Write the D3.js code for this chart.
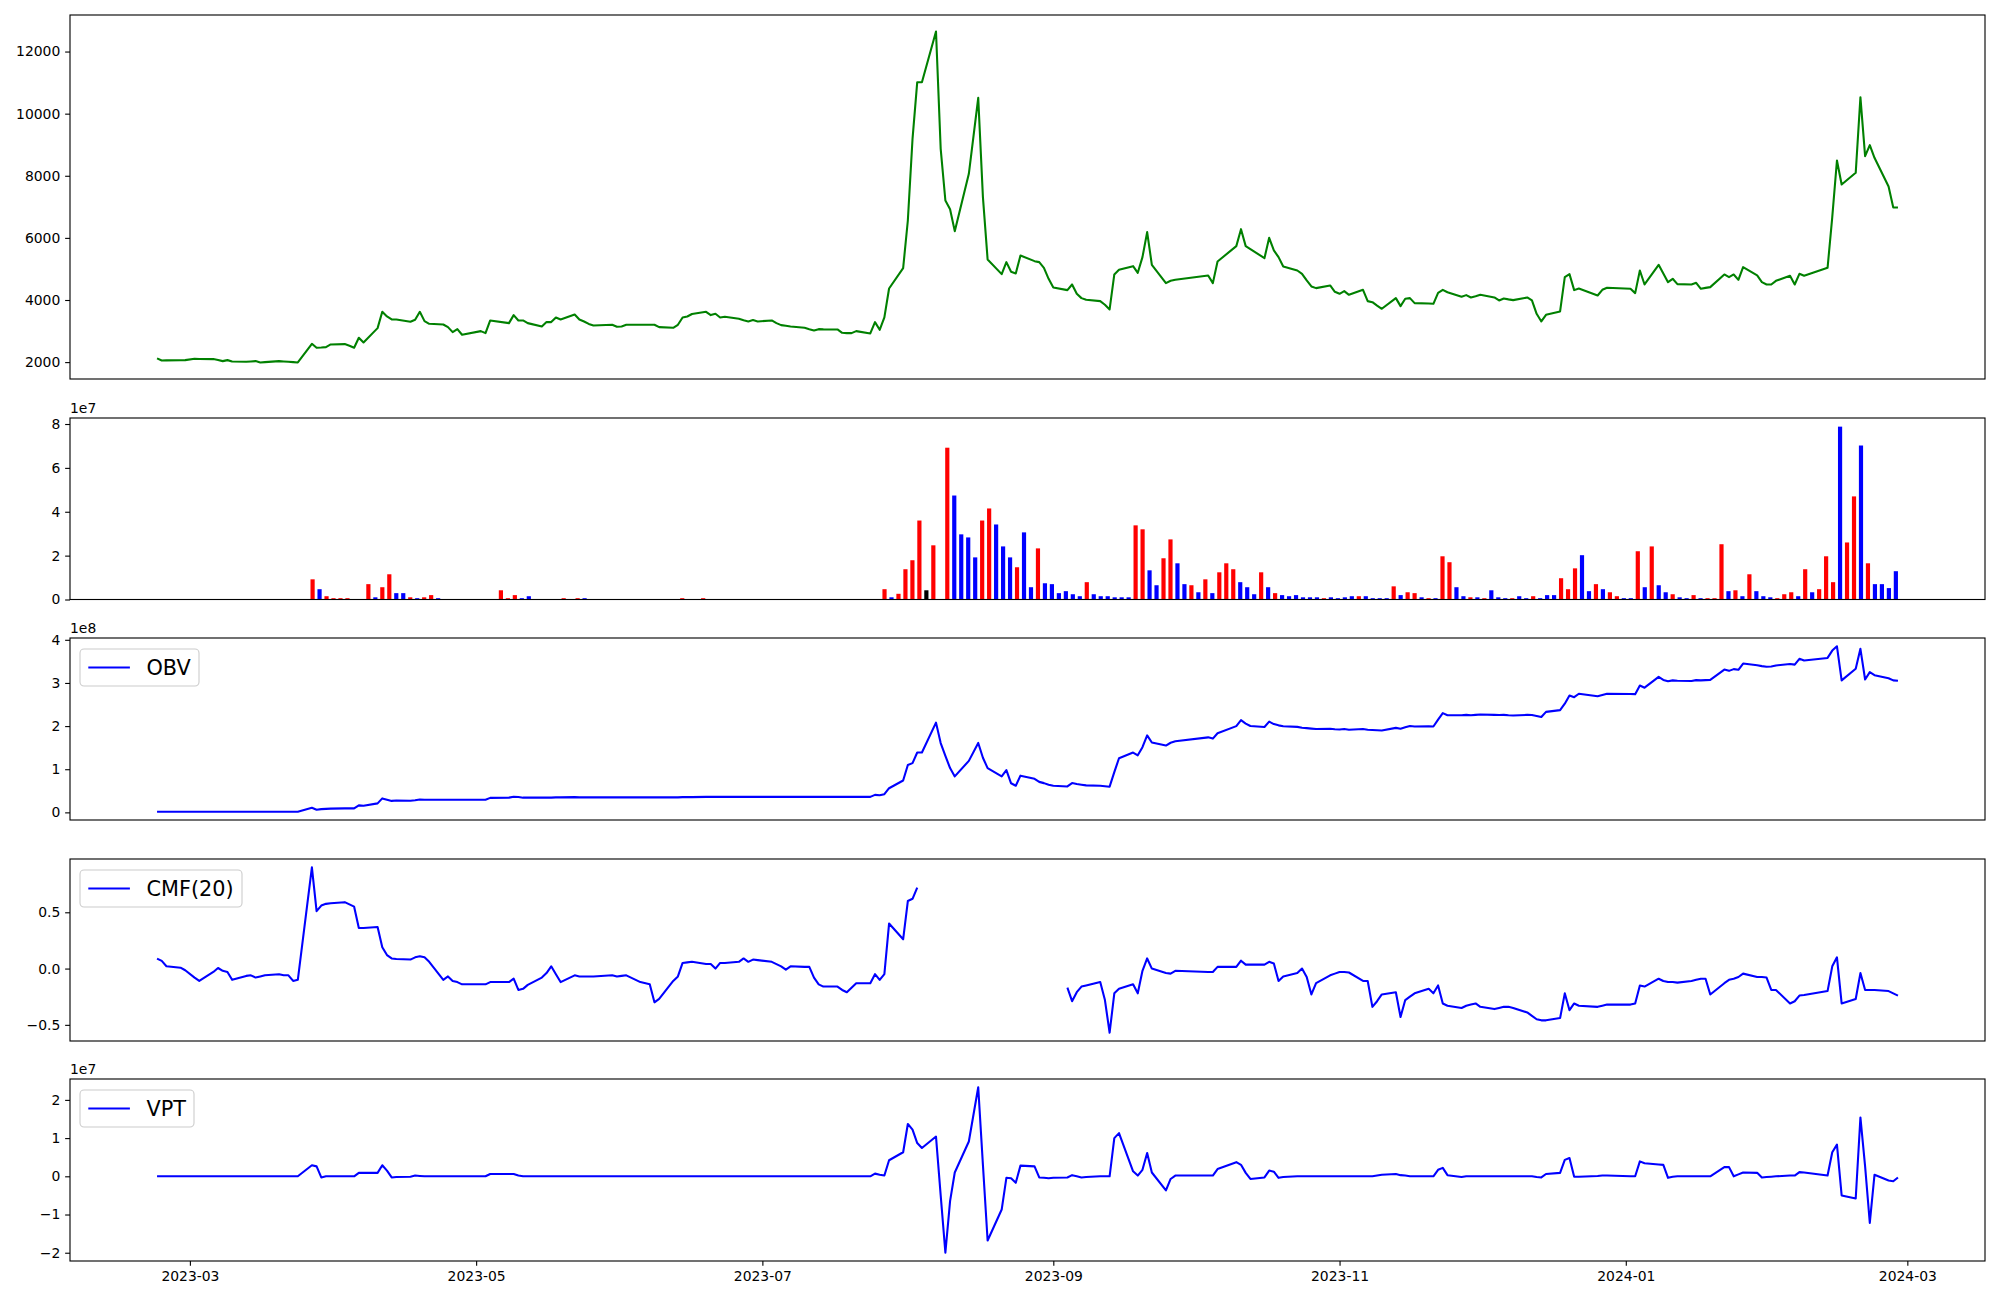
<!DOCTYPE html>
<html><head><meta charset="utf-8">
<script src="https://cdn.jsdelivr.net/npm/d3@7/dist/d3.min.js"></script>
<style>body{margin:0;background:#fff}svg{display:block}text{font-family:"DejaVu Sans",sans-serif}</style>
</head><body><svg id="chart" width="2000" height="1300"></svg>
<script>
// ---------------- DATA ----------------
const tradingDays = [
 ["2023-02",[22,23,24,27,28]],
 ["2023-03",[2,3,6,7,8,9,10,13,14,15,16,17,20,21,22,23,24,27,28,29,30,31]],
 ["2023-04",[3,4,5,6,7,10,11,12,13,14,17,18,19,20,21,24,25,26,27,28]],
 ["2023-05",[2,3,4,8,9,10,11,12,15,16,17,18,19,22,23,24,25,26,30,31]],
 ["2023-06",[1,2,5,7,8,9,12,13,14,15,16,19,20,21,22,23,26,27,28,29,30]],
 ["2023-07",[3,4,5,6,7,10,11,12,13,14,17,18,19,20,21,24,25,26,27,28,31]],
 ["2023-08",[1,2,3,4,7,8,9,10,11,14,16,17,18,21,22,23,24,25,28,29,30,31]],
 ["2023-09",[1,4,5,6,7,8,11,12,13,14,15,18,19,20,21,22,25,26,27]],
 ["2023-10",[4,5,6,10,11,12,13,16,17,18,19,20,23,24,25,26,27,30,31]],
 ["2023-11",[1,2,3,6,7,8,9,10,13,14,15,16,17,20,21,22,23,24,27,28,29,30]],
 ["2023-12",[1,4,5,6,7,8,11,12,13,14,15,18,19,20,21,22,26,27,28]],
 ["2024-01",[2,3,4,5,8,9,10,11,12,15,16,17,18,19,22,23,24,25,26,29,30,31]],
 ["2024-02",[1,2,5,6,7,8,13,14,15,16,19,20,21,22,23,26,27,28]]
];

const closePrice = [
 2120,2054,2055,2060,2064,2107,2100,2097,2070,2032,
 2064,2021,2011,2020,2032,1989,2000,2032,2020,2011,
 2000,1989,2590,2461,2470,2483,2569,2580,2526,2461,
 2783,2633,3094,3620,3470,3373,3373,3298,3363,3620,
 3320,3234,3212,3127,2966,3062,2880,2998,2934,3341,
 3255,3513,3341,3341,3255,3148,3288,3288,3438,3373,
 3534,3373,3309,3230,3180,3202,3137,3148,3202,3202,
 3202,3202,3127,3105,3202,3438,3470,3550,3620,3513,
 3556,3438,3459,3395,3350,3309,3352,3309,3341,3255,
 3191,3170,3148,3105,3060,3019,3062,3055,3051,2944,
 2934,2934,2998,2923,3288,3041,3438,4371,5026,6560,
 9190,11013,11013,12644,8867,7204,6925,6217,8062,10509,
 7311,5305,4833,5219,4908,4854,5434,5251,5219,5037,
 4683,4404,4318,4500,4200,4060,4007,3964,3846,3695,
 4822,4972,5090,4876,5380,6185,5133,4543,4618,4650,
 4790,4543,5240,5734,6281,5734,5637,5348,6002,5595,
 5380,5080,4950,4843,4629,4436,4382,4468,4264,4200,
 4285,4167,4328,3964,3931,3820,3717,4060,3803,4039,
 4060,3899,3890,3878,4232,4328,4250,4103,4157,4082,
 4120,4167,4082,3985,4049,4020,3996,4082,3985,3556,
 3309,3524,3631,4736,4833,4318,4371,4146,4328,4393,
 4361,4221,4951,4500,5133,4850,4575,4683,4511,4500,
 4554,4361,4390,4414,4822,4736,4822,4650,5058,4790,
 4575,4500,4500,4618,4779,4500,4843,4779,5037,6668,
 8492,7719,8095,10530,8631,8985,8578,7655,6979,6979
];

const volume = [
 0,0,0,0,0,0,0,0,0,0,
 0,0,0,0,0,0,0,0,0,0,
 0,0,9.2e6,4.7e6,1.5e6,0.6e6,0.6e6,0.6e6,0,0,
 7.0e6,1.0e6,5.6e6,11.5e6,2.9e6,2.9e6,1.0e6,0.6e6,1.0e6,2.0e6,
 0.6e6,0,0,0,0,0,0,0,0,4.2e6,
 0.6e6,2.0e6,0.6e6,1.5e6,0,0,0,0,0.6e6,0,
 0.6e6,0.6e6,0,0,0,0,0,0,0,0,
 0,0,0,0,0,0.6e6,0,0,0.6e6,0,
 0,0,0,0,0,0,0,0,0,0,
 0,0,0,0,0,0,0,0,0,0,
 0,0,0,0,4.7e6,1.0e6,2.6e6,13.8e6,17.9e6,36.0e6,
 4.2e6,24.7e6,0,69.2e6,47.4e6,29.7e6,28.3e6,19.2e6,36.0e6,41.5e6,
 34.2e6,24.2e6,19.2e6,14.7e6,30.6e6,5.6e6,23.3e6,7.4e6,7.0e6,2.9e6,
 3.8e6,2.4e6,1.5e6,7.9e6,2.4e6,1.5e6,1.5e6,1.0e6,1.0e6,1.0e6,
 33.8e6,32.0e6,13.3e6,6.5e6,18.8e6,27.4e6,16.5e6,7.0e6,6.5e6,3.3e6,
 9.2e6,2.9e6,12.4e6,16.5e6,13.8e6,7.9e6,5.6e6,2.4e6,12.4e6,5.6e6,
 2.9e6,2.0e6,1.5e6,2.0e6,1.0e6,1.0e6,1.0e6,0.6e6,1.0e6,0.6e6,
 1.0e6,1.5e6,1.5e6,1.5e6,0.6e6,0.6e6,0.6e6,6.0e6,2.0e6,3.3e6,
 2.9e6,1.0e6,0.6e6,0.6e6,19.7e6,17.0e6,5.6e6,1.5e6,1.0e6,1.0e6,
 0.6e6,4.2e6,1.0e6,0.6e6,0.6e6,1.5e6,0.6e6,1.5e6,0.6e6,2.0e6,
 2.0e6,9.7e6,4.7e6,14.2e6,20.2e6,3.8e6,7.0e6,4.7e6,3.3e6,1.5e6,
 0.6e6,0.6e6,22.0e6,5.6e6,24.2e6,6.5e6,3.3e6,2.4e6,1.0e6,0.6e6,
 2.0e6,0.6e6,0.6e6,0.6e6,25.2e6,3.8e6,4.2e6,1.5e6,11.5e6,3.8e6,
 1.5e6,1.0e6,0.6e6,2.4e6,3.3e6,1.5e6,13.8e6,3.3e6,4.7e6,19.7e6,
 7.9e6,78.8e6,26.0e6,47.0e6,70.2e6,16.5e6,7.0e6,7.0e6,5.2e6,12.9e6
];

// bar colour per day: r = red, b = blue, k = black, n = no bar
const volumeColorCodes = (
 "nnnnnnnnnn" + "nnnnnnnnnn" + "nnrbrrrrnn" + "rbrrbbrbrr" + "bnnnnnnnnr" +
 "rrbbnnnnrn" + "rbnnnnnnnn" + "nnnnnrnnrn" + "nnnnnnnnnn" + "nnnnnnnnnn" +
 "nnnnrbrrrr" + "krnrbbbbrr" + "bbbrbbrbbb" + "bbbrbbbbbb" + "rrbbrrbbrb" +
 "rbrrrbbbrb" + "rbbbbbbrbb" + "bbrbbbbrbr" + "rbrbrrbbrb" + "rbbbrbbrbb" +
 "brrrbbrbrr" + "bbrbrbbrbb" + "rbrrrbrbrb" + "bbrrrbrbrr" + "rbrrbrbbbb").split("");

const obv = [
 1.5e6,1.5e6,1.5e6,1.5e6,1.5e6,1.5e6,1.5e6,1.5e6,1.5e6,1.5e6,
 1.5e6,1.5e6,1.5e6,1.5e6,1.5e6,1.5e6,1.5e6,1.5e6,1.5e6,1.5e6,
 1.5e6,1.5e6,10.7e6,6.0e6,7.5e6,8.1e6,8.7e6,9.3e6,9.3e6,9.3e6,
 16.3e6,15.3e6,20.9e6,32.4e6,29.5e6,26.6e6,27.6e6,27.0e6,28.0e6,30.0e6,
 29.4e6,29.4e6,29.4e6,29.4e6,29.4e6,29.4e6,29.4e6,29.4e6,29.4e6,33.6e6,
 34.2e6,36.2e6,35.6e6,34.1e6,34.1e6,34.1e6,34.1e6,34.1e6,34.7e6,34.7e6,
 35.3e6,34.7e6,34.7e6,34.7e6,34.7e6,34.7e6,34.7e6,34.7e6,34.7e6,34.7e6,
 34.7e6,34.7e6,34.7e6,34.7e6,34.7e6,35.3e6,35.3e6,35.3e6,35.9e6,35.9e6,
 35.9e6,35.9e6,35.9e6,35.9e6,35.9e6,35.9e6,35.9e6,35.9e6,35.9e6,35.9e6,
 35.9e6,35.9e6,35.9e6,35.9e6,35.9e6,35.9e6,35.9e6,35.9e6,35.9e6,35.9e6,
 35.9e6,35.9e6,35.9e6,35.9e6,40.6e6,39.6e6,42.2e6,56.0e6,73.9e6,109.9e6,
 114.1e6,138.8e6,138.8e6,208.0e6,160.6e6,130.9e6,102.6e6,83.4e6,119.4e6,160.9e6,
 126.7e6,102.5e6,83.3e6,98.0e6,67.4e6,61.8e6,85.1e6,77.7e6,70.7e6,67.8e6,
 64.0e6,61.6e6,60.1e6,68.0e6,65.6e6,64.1e6,62.6e6,61.6e6,60.6e6,59.6e6,
 93.4e6,125.4e6,138.7e6,132.2e6,151.0e6,178.4e6,161.9e6,154.9e6,161.4e6,164.7e6,
 173.9e6,171.0e6,183.4e6,199.9e6,213.7e6,205.8e6,200.2e6,197.8e6,210.2e6,204.6e6,
 201.7e6,199.7e6,198.2e6,196.2e6,195.2e6,194.2e6,193.2e6,193.8e6,192.8e6,192.2e6,
 193.2e6,191.7e6,193.2e6,191.7e6,191.1e6,190.5e6,189.9e6,195.9e6,193.9e6,197.2e6,
 200.1e6,199.1e6,199.7e6,199.1e6,215.0e6,230.0e6,225.0e6,225.0e6,226.0e6,225.0e6,
 226.0e6,227.0e6,226.0e6,225.5e6,226.0e6,225.0e6,224.5e6,226.0e6,225.5e6,223.5e6,
 221.0e6,233.0e6,237.0e6,252.0e6,271.0e6,267.0e6,275.0e6,269.0e6,272.0e6,275.0e6,
 274.5e6,274.0e6,294.0e6,289.0e6,314.0e6,307.0e6,304.0e6,306.0e6,305.0e6,304.5e6,
 306.5e6,306.0e6,306.5e6,307.0e6,331.0e6,328.0e6,332.0e6,330.5e6,345.0e6,341.0e6,
 339.0e6,337.5e6,338.0e6,340.5e6,344.0e6,342.5e6,356.0e6,352.0e6,358.0e6,375.0e6,
 385.0e6,306.0e6,333.0e6,379.0e6,308.0e6,325.0e6,318.0e6,311.0e6,306.0e6,305.0e6
];

const cmf20 = [
 0.089,0.068,0.021,0.008,-0.015,-0.08,-0.11,-0.03,0.005,-0.02,
 -0.03,-0.10,-0.065,-0.06,-0.08,-0.07,-0.06,-0.05,-0.06,-0.06,
 -0.11,-0.10,0.90,0.51,0.56,0.575,0.58,0.59,0.57,0.55,
 0.36,0.36,0.37,0.19,0.12,0.09,0.085,0.08,0.10,0.11,
 0.10,0.06,-0.10,-0.07,-0.11,-0.12,-0.14,-0.14,-0.14,-0.12,
 -0.12,-0.09,-0.19,-0.18,-0.145,-0.08,-0.04,0.02,-0.05,-0.12,
 -0.06,-0.07,-0.07,-0.07,-0.07,-0.06,-0.07,-0.065,-0.06,-0.12,
 -0.14,-0.30,-0.27,-0.11,-0.07,0.05,0.055,0.06,0.04,0.04,
 0.0,0.05,0.05,0.06,0.09,0.06,0.08,0.075,0.06,0.04,
 0.02,-0.01,0.02,0.015,0.015,-0.08,-0.14,-0.16,-0.16,-0.19,
 -0.21,-0.17,-0.13,-0.13,-0.05,-0.10,-0.05,0.40,0.26,0.60,
 0.62,0.72,null,null,null,null,null,null,null,null,
 null,null,null,null,null,null,null,null,null,null,
 null,null,-0.17,-0.29,-0.21,-0.16,-0.15,-0.12,-0.28,-0.57,
 -0.22,-0.18,-0.14,-0.22,-0.02,0.09,0.0,-0.04,-0.045,-0.02,
 -0.03,-0.03,0.015,0.015,0.07,0.035,0.035,0.035,0.06,0.045,
 -0.11,-0.07,-0.04,0.0,-0.075,-0.23,-0.13,-0.06,-0.045,-0.03,
 -0.03,-0.035,-0.11,-0.11,-0.34,-0.29,-0.23,-0.21,-0.43,-0.28,
 -0.25,-0.22,-0.18,-0.22,-0.15,-0.31,-0.33,-0.35,-0.33,-0.32,
 -0.31,-0.34,-0.36,-0.35,-0.34,-0.34,-0.35,-0.39,-0.42,-0.45,
 -0.46,-0.46,-0.44,-0.22,-0.37,-0.31,-0.33,-0.34,-0.33,-0.32,
 -0.32,-0.31,-0.15,-0.16,-0.09,-0.11,-0.12,-0.12,-0.125,-0.11,
 -0.10,-0.09,-0.09,-0.23,-0.13,-0.10,-0.09,-0.075,-0.045,-0.075,
 -0.075,-0.08,-0.19,-0.19,-0.31,-0.29,-0.24,-0.235,-0.20,0.02,
 0.10,-0.31,-0.27,-0.04,-0.19,-0.19,-0.19,-0.20,-0.22,-0.24
];

const vpt = [
 0,0,0,0,0,0,0,0,0,0,
 0,0,0,0,0,0,0,0,0,0,
 0,0,2.9e6,2.6e6,-0.3e6,0,0,0,0,0,
 0.9e6,0.9e6,0.9e6,2.9e6,1.5e6,-0.3e6,-0.2e6,-0.1e6,0.2e6,0.1e6,
 0,0,0,0,0,0,0,0,0,0.6e6,
 0.6e6,0.6e6,0.2e6,0,0,0,0,0,0,0,
 0,0,0,0,0,0,0,0,0,0,
 0,0,0,0,0,0,0,0,0,0,
 0,0,0,0,0,0,0,0,0,0,
 0,0,0,0,0,0,0,0,0,0,
 0,0,0,0,0.7e6,0.4e6,0.2e6,4.2e6,6.3e6,13.7e6,
 12.2e6,8.7e6,7.4e6,10.4e6,-5.0e6,-20.0e6,-6.5e6,1.0e6,9.1e6,23.3e6,
 3.0e6,-16.8e6,-8.7e6,-0.4e6,-0.5e6,-1.7e6,2.8e6,2.6e6,-0.3e6,-0.4e6,
 -0.5e6,-0.4e6,-0.3e6,0.3e6,0,-0.3e6,-0.2e6,0,0,0,
 10.0e6,11.3e6,1.3e6,0.2e6,1.7e6,6.1e6,1.0e6,-3.7e6,-0.7e6,0.2e6,
 0.2e6,0.2e6,1.9e6,3.7e6,3.0e6,0.9e6,-0.7e6,-0.3e6,1.5e6,1.2e6,
 -0.4e6,-0.2e6,0,0,0,0,0,0,0,0,
 0,0,0,0,0,0.2e6,0.4e6,0.6e6,0.3e6,0.2e6,
 0,0,0,0,1.7e6,2.2e6,0.3e6,-0.2e6,0,0,
 0,0,0,0,0,0,0,0,0,-0.2e6,
 -0.3e6,0.6e6,0.9e6,4.3e6,4.8e6,-0.1e6,-0.1e6,0.1e6,0.2e6,0.2e6,
 0,0,3.9e6,3.4e6,3.1e6,3.0e6,-0.4e6,-0.1e6,0,0,
 0,0,0,0,2.4e6,2.4e6,0,0.5e6,1.0e6,0.9e6,
 -0.3e6,-0.2e6,-0.1e6,0,0.2e6,0.2e6,1.1e6,1.0e6,0.2e6,6.3e6,
 8.3e6,-5.0e6,-5.8e6,15.4e6,2.6e6,-12.2e6,0.4e6,-1.1e6,-1.3e6,-0.3e6
];

const priceTicks = [2000,4000,6000,8000,10000,12000];
const priceTickLabels = ["2000","4000","6000","8000","10000","12000"];
const volumeTicks = [0,2e7,4e7,6e7,8e7];
const volumeTickLabels = ["0","2","4","6","8"];
const obvTicks = [0,1e8,2e8,3e8,4e8];
const obvTickLabels = ["0","1","2","3","4"];
const cmfTicks = [-0.5,0,0.5];
const cmfTickLabels = ["\u22120.5","0.0","0.5"];
const vptTicks = [-2e7,-1e7,0,1e7,2e7];
const vptTickLabels = ["\u22122","\u22121","0","1","2"];
const xTickDates = ["2023-03-01","2023-05-01","2023-07-01","2023-09-01","2023-11-01","2024-01-01","2024-03-01"];
const xTickLabels = ["2023-03","2023-05","2023-07","2023-09","2023-11","2024-01","2024-03"];

// ---------------- LAYOUT ----------------
const W = 2000, H = 1300, L = 70, R = 1985;
const FS = 13.9, TICK = 4.86, LW = 2.08, SPINE = 1.11;
const P = {
  price: {top: 15, bottom: 379},
  vol:   {top: 418, bottom: 599.5},
  obv:   {top: 638, bottom: 820},
  cmf:   {top: 859, bottom: 1041},
  vpt:   {top: 1079, bottom: 1261}
};

const svg = d3.select("#chart");
svg.append("rect").attr("width", W).attr("height", H).attr("fill", "#fff");
const defs = svg.append("defs");

const parse = d3.timeParse("%Y-%m-%d");
const dates = tradingDays.flatMap(([ym, ds]) => ds.map(d => parse(ym + "-" + String(d).padStart(2, "0"))));
const N = dates.length;
const span = dates[N - 1] - dates[0];
const x = d3.scaleTime()
  .domain([new Date(+dates[0] - span * 0.05), new Date(+dates[N - 1] + span * 0.05)])
  .range([L, R]);

const barFrac = 0.6;
const iLo = -barFrac / 2, iHi = N - 1 + barFrac / 2, iPad = (iHi - iLo) * 0.05;
const xi = d3.scaleLinear().domain([iLo - iPad, iHi + iPad]).range([L, R]);

function padded(vals) {
  const [a, b] = d3.extent(vals);
  const p = (b - a) * 0.05;
  return [a - p, b + p];
}

function panel(key, domain, ticks, labels, offsetLabel) {
  const p = P[key];
  const y = d3.scaleLinear().domain(domain).range([p.bottom, p.top]);
  const g = svg.append("g");
  defs.append("clipPath").attr("id", "clip-" + key)
    .append("rect").attr("x", L).attr("y", p.top).attr("width", R - L).attr("height", p.bottom - p.top);
  const plot = g.append("g").attr("clip-path", "url(#clip-" + key + ")");
  const ax = g.append("g").attr("transform", "translate(" + L + ",0)")
    .call(d3.axisLeft(y).tickValues(ticks).tickFormat((d, i) => labels[i]).tickSize(TICK).tickPadding(TICK));
  ax.select(".domain").remove();
  ax.selectAll(".tick line").attr("stroke", "#000").attr("stroke-width", SPINE);
  ax.selectAll(".tick text").attr("fill", "#000").style("font-size", FS + "px").style("font-family", "DejaVu Sans");
  if (offsetLabel) {
    g.append("text").attr("x", L).attr("y", p.top - 5).attr("fill", "#000")
      .style("font-size", FS + "px").text(offsetLabel);
  }
  return {y, plot, g, p};
}

function spines(p) {
  svg.append("rect").attr("x", L).attr("y", p.top).attr("width", R - L).attr("height", p.bottom - p.top)
    .attr("fill", "none").attr("stroke", "#000").attr("stroke-width", SPINE);
}

function drawLine(pn, values, color) {
  const line = d3.line().defined(d => d != null)
    .x((d, i) => x(dates[i])).y(d => pn.y(d));
  pn.plot.append("path").datum(values).attr("d", line)
    .attr("fill", "none").attr("stroke", color).attr("stroke-width", LW)
    .attr("stroke-linejoin", "round").attr("stroke-linecap", "butt");
}

function legend(pn, label, boxW) {
  const bx = L + 10, by = pn.p.top + 11, bh = 37;
  const lg = svg.append("g");
  lg.append("rect").attr("x", bx).attr("y", by).attr("width", boxW).attr("height", bh)
    .attr("rx", 4).attr("ry", 4).attr("fill", "#fff").attr("fill-opacity", 0.8)
    .attr("stroke", "#cccccc").attr("stroke-width", 1.1);
  const cy = by + bh / 2;
  lg.append("line").attr("x1", bx + 8.3).attr("x2", bx + 8.3 + 41.6).attr("y1", cy).attr("y2", cy)
    .attr("stroke", "#0000ff").attr("stroke-width", LW);
  lg.append("text").attr("x", bx + 8.3 + 41.6 + 16.6).attr("y", cy).attr("dy", "0.36em")
    .attr("fill", "#000").style("font-size", "20.8px").text(label);
}

// ---- price ----
const pPrice = panel("price", padded(closePrice), priceTicks, priceTickLabels, null);
drawLine(pPrice, closePrice, "#008000");
spines(P.price);

// ---- volume ----
const vMax = d3.max(volume);
const pVol = panel("vol", [0, vMax * 1.05], volumeTicks, volumeTickLabels, "1e7");
const colorMap = {r: "#ff0000", b: "#0000ff", k: "#000000"};
const bw = xi(barFrac) - xi(0);
const bars = volume.map((v, i) => ({i, v, c: volumeColorCodes[i]}))
  .filter(d => d.v > 0 && d.c !== "n");
pVol.plot.selectAll("rect.bar").data(bars).enter()
  .append("rect").attr("class", "bar")
  .attr("x", d => xi(d.i) - bw / 2).attr("width", bw)
  .attr("y", d => pVol.y(d.v)).attr("height", d => pVol.y(0) - pVol.y(d.v))
  .attr("fill", d => colorMap[d.c]);
spines(P.vol);

// ---- OBV ----
const pObv = panel("obv", padded(obv), obvTicks, obvTickLabels, "1e8");
drawLine(pObv, obv, "#0000ff");
spines(P.obv);
legend(pObv, "OBV", 119);

// ---- CMF ----
const pCmf = panel("cmf", padded(cmf20), cmfTicks, cmfTickLabels, null);
drawLine(pCmf, cmf20, "#0000ff");
spines(P.cmf);
legend(pCmf, "CMF(20)", 162);

// ---- VPT ----
const pVpt = panel("vpt", padded(vpt), vptTicks, vptTickLabels, "1e7");
drawLine(pVpt, vpt, "#0000ff");
spines(P.vpt);
legend(pVpt, "VPT", 114);

// bottom date axis
const xa = svg.append("g").attr("transform", "translate(0," + P.vpt.bottom + ")")
  .call(d3.axisBottom(x).tickValues(xTickDates.map(parse)).tickFormat((d, i) => xTickLabels[i])
    .tickSize(TICK).tickPadding(TICK));
xa.select(".domain").remove();
xa.selectAll(".tick line").attr("stroke", "#000").attr("stroke-width", SPINE);
xa.selectAll(".tick text").attr("fill", "#000").style("font-size", FS + "px").style("font-family", "DejaVu Sans");
</script></body></html>
